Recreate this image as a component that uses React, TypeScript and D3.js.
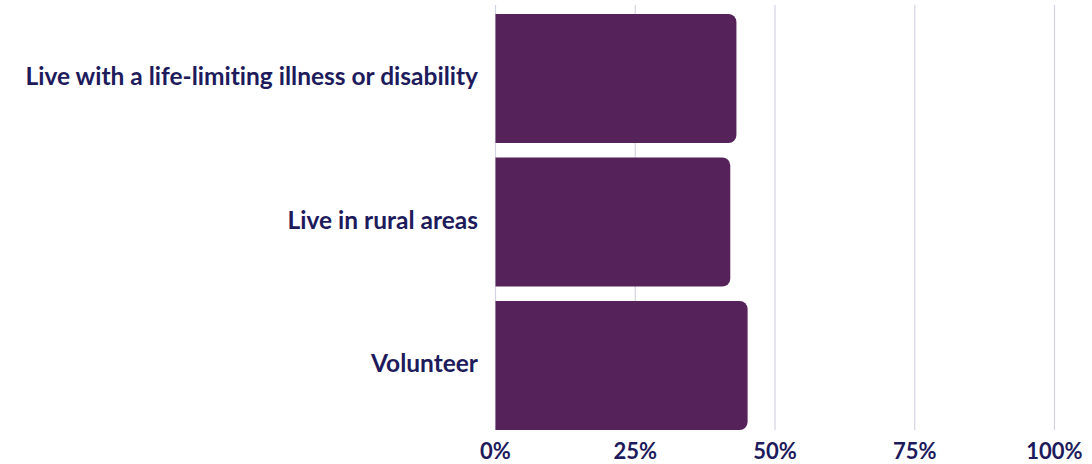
import React from "react";
import * as d3 from "d3";

const categories = [
  "Live with a life-limiting illness or disability",
  "Live in rural areas",
  "Volunteer",
];
const values = [43.1, 42.0, 45.1];
const ticks = [0, 25, 50, 75, 100];

const W = 1092;
const H = 464;

export default function App() {
  const x = d3.scaleLinear().domain([0, 100]).range([495.5, 1054.5]);
  const y = d3.scaleBand<string>().domain(categories).range([14, 430]).paddingInner(0.1).paddingOuter(0);
  const r = 8;
  const textColor = "#1d1b5c";
  const font = "Lato, 'Open Sans', sans-serif";

  const barPath = (v: number, c: string) => {
    const x0 = x(0);
    const x1 = x(v);
    const y0 = y(c)!;
    const h = y.bandwidth();
    const p = d3.path();
    p.moveTo(x0, y0);
    p.lineTo(x1 - r, y0);
    p.arcTo(x1, y0, x1, y0 + r, r);
    p.lineTo(x1, y0 + h - r);
    p.arcTo(x1, y0 + h, x1 - r, y0 + h, r);
    p.lineTo(x0, y0 + h);
    p.closePath();
    return p.toString();
  };

  return (
    <svg width={W} height={H} style={{ position: "absolute", left: 0, top: 0, display: "block", fontVariantLigatures: "none" }}>
      <rect width={W} height={H} fill="#ffffff" />
      {ticks.map((t) => (
        <line key={t} x1={x(t)} x2={x(t)} y1={5} y2={430} stroke="#d4d3e3" strokeWidth={1.2} />
      ))}
      {categories.map((c, i) => (
        <path key={c} d={barPath(values[i], c)} fill="#55225a" />
      ))}
      {categories.map((c) => (
        <text
          key={c}
          x={478}
          y={y(c)! + y.bandwidth() / 2 - 2}
          dy="0.35em"
          textAnchor="end"
          fontFamily={font}
          fontWeight={700}
          fontSize={24.5}
          fill={textColor}
        >
          {c}
        </text>
      ))}
      {ticks.map((t) => (
        <text
          key={t}
          x={x(t)}
          y={459}
          textAnchor="middle"
          fontFamily={font}
          fontWeight={700}
          fontSize={22}
          fill={textColor}
        >
          {t + "%"}
        </text>
      ))}
    </svg>
  );
}
